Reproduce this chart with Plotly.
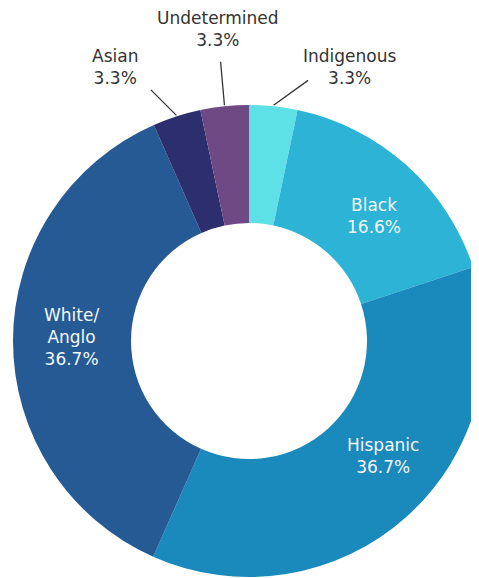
import math
import plotly.graph_objects as go

# ---- data ----
categories = ["Indigenous", "Black", "Hispanic", "White/Anglo", "Asian", "Undetermined"]
display_labels = ["Indigenous", "Black", "Hispanic", "White/<br>Anglo", "Asian", "Undetermined"]
values = [3.3, 16.6, 36.7, 36.7, 3.3, 3.3]
colors = ["#5de1e6", "#2cb3d5", "#1a89bc", "#265a95", "#2d2e6d", "#6e4983"]
outside = ["Indigenous", "Asian", "Undetermined"]

W, H = 479, 578
OFF = 8  # page body margin offset
# pie geometry (figure pixels)
cx, cy, R = 249 - OFF, 341 - OFF, 236
hole = 0.5

FONT = "DejaVu Sans"

fig = go.Figure(go.Pie(
    labels=categories,
    values=values,
    textinfo="none",
    sort=False,
    direction="clockwise",
    rotation=0,
    hole=hole,
    marker=dict(colors=colors, line=dict(width=0)),
    domain=dict(x=[(cx - R) / W, (cx + R) / W], y=[1 - (cy + R) / H, 1 - (cy - R) / H]),
    showlegend=False,
    hoverinfo="label+percent",
))

# label placement (page px): text centre, leader-line tail offset (outside only)
label_pos = {
    "Indigenous": ((350, 67), (36, -26)),
    "Black": ((374, 216), None),
    "Hispanic": ((383, 456), None),
    "White/Anglo": ((72, 337), None),
    "Asian": ((115, 67), (-27, -27)),
    "Undetermined": ((218, 29), (-4, -45)),
}

total = sum(values)
cum = 0.0
for cat, lab, v in zip(categories, display_labels, values):
    mid = (cum + v / 2) / total * 2 * math.pi
    cum += v
    (tx, ty), tail = label_pos[cat]
    is_out = cat in outside
    if is_out:
        hx = cx + (R + 1) * math.sin(mid)
        hy = cy - (R + 1) * math.cos(mid)
        fig.add_annotation(
            x=hx / W, y=1 - hy / H, xref="paper", yref="paper",
            ax=tail[0], ay=tail[1], text="", showarrow=True, arrowhead=0,
            arrowwidth=1.3, arrowcolor="#333333", standoff=0, startstandoff=0,
        )
    fig.add_annotation(
        x=(tx - OFF) / W, y=1 - (ty - OFF) / H, xref="paper", yref="paper",
        text=f"{lab}<br>{v:.1f}%", showarrow=False,
        font=dict(family=FONT, size=17,
                  color="#333333" if is_out else "#f2f7fa"),
        xanchor="center", yanchor="middle", align="center",
    )

fig.update_layout(
    width=W, height=H,
    margin=dict(l=0, r=0, t=0, b=0),
    paper_bgcolor="white",
    plot_bgcolor="white",
)

fig.write_html("out.html")
